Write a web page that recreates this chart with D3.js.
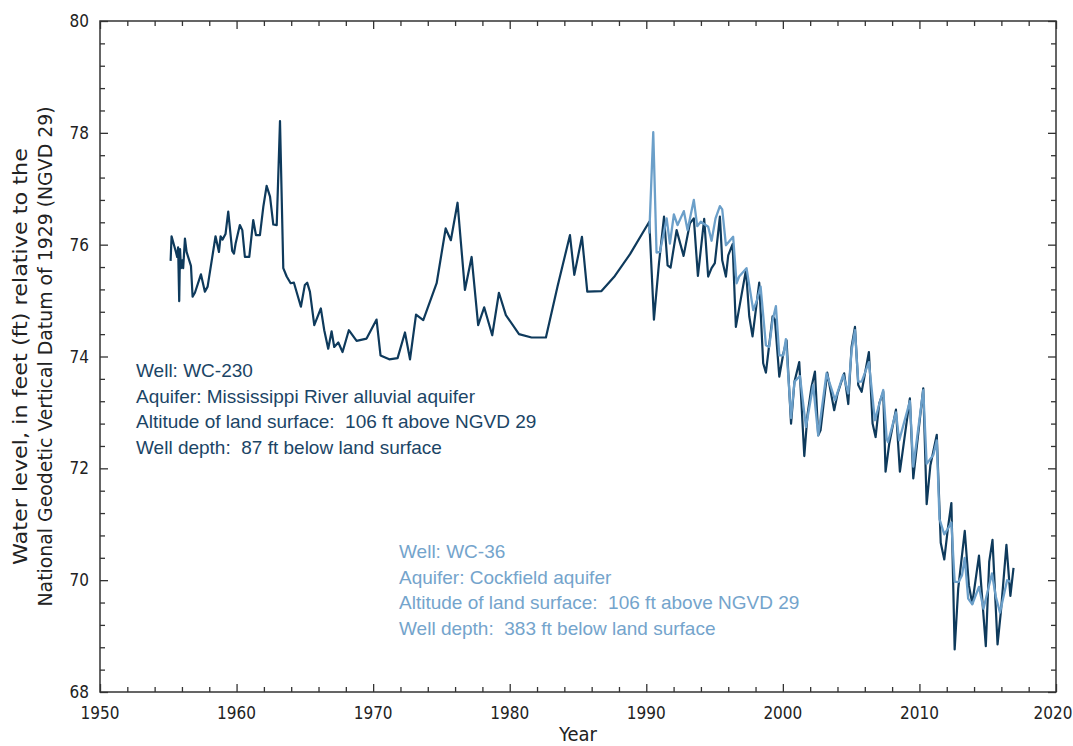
<!DOCTYPE html>
<html>
<head>
<meta charset="utf-8">
<script src="https://cdn.jsdelivr.net/npm/d3@7"></script>
<style>
  body { margin: 0; background: #fff; }
  .narrow { font-family: "Liberation Sans Narrow", "Arial Narrow", "DejaVu Sans Condensed", "DejaVu Sans", sans-serif; font-stretch: condensed; }
  .note { font-family: "Liberation Sans", Arial, sans-serif; font-size: 19px; }
</style>
</head>
<body>
<div id="chart"></div>
<script>
// Well WC-230 (Mississippi River alluvial aquifer)
var wc230Years = [1955.17,1955.24,1955.56,1955.65,1955.72,1955.8,1955.86,1955.93,1956.02,1956.09,1956.22,1956.34,1956.66,1956.78,1956.95,
  1957.39,1957.68,1957.88,1958.46,1958.71,1958.83,1958.97,1959.19,1959.39,1959.68,1959.81,1959.93,1960.24,1960.42,1960.61,1960.93,
  1961.22,1961.42,1961.71,1961.96,1962.2,1962.45,1962.69,1962.94,1963.18,1963.42,1963.67,1963.96,1964.2,1964.71,1965.0,1965.17,
  1965.37,1965.69,1966.17,1966.42,1966.71,1966.96,1967.15,1967.45,1967.76,1968.22,1968.79,1969.52,1970.25,1970.54,1971.18,1971.79,
  1972.33,1972.7,1973.14,1973.67,1974.65,1975.31,1975.69,1976.18,1976.72,1977.21,1977.69,1978.13,1978.72,1979.21,1979.72,1980.68,
  1981.6,1982.65,1983.5,1984.41,1984.73,1985.29,1985.68,1986.72,1987.7,1988.81,1990.22,1990.56,1990.93,1991.3,1991.56,1991.78,
  1992.22,1992.73,1993.19,1993.48,1993.78,1994.24,1994.53,1994.78,1995.02,1995.39,1995.56,1995.83,1996.0,1996.32,1996.56,1996.93,
  1997.3,1997.54,1997.78,1998.27,1998.56,1998.76,1999.25,1999.42,1999.74,2000.03,2000.27,2000.6,2000.85,2001.2,2001.57,2001.8,
  2002.1,2002.35,2002.59,2002.76,2003.25,2003.76,2004.01,2004.49,2004.79,2005.03,2005.28,2005.52,2005.77,2006.3,2006.57,2006.79,
  2007.06,2007.35,2007.52,2007.79,2008.28,2008.57,2009.3,2009.55,2010.28,2010.53,2010.8,2011.27,2011.56,2011.82,2012.09,2012.34,
  2012.58,2012.84,2013.32,2013.62,2013.87,2014.36,2014.86,2015.11,2015.35,2015.72,2015.97,2016.37,2016.66,2016.89];
var wc230Levels = [75.71,76.15,75.87,75.78,75.95,74.99,75.92,75.58,75.72,75.58,76.11,75.87,75.62,75.07,75.14,
  75.47,75.16,75.25,76.15,75.87,76.15,76.09,76.19,76.59,75.89,75.84,76.02,76.35,76.26,75.78,75.78,
  76.44,76.17,76.17,76.68,77.05,76.86,76.36,76.35,78.21,75.58,75.43,75.31,75.32,74.89,75.28,75.32,
  75.16,74.56,74.86,74.47,74.14,74.45,74.17,74.25,74.08,74.47,74.28,74.32,74.66,74.02,73.95,73.97,
  74.43,73.95,74.75,74.65,75.31,76.29,76.08,76.75,75.19,75.78,74.56,74.88,74.38,75.14,74.74,74.4,
  74.34,74.34,75.25,76.17,75.46,76.14,75.16,75.17,75.44,75.83,76.41,74.66,75.67,76.5,75.63,75.59,
  76.26,75.8,76.38,76.47,75.44,76.46,75.43,75.58,75.67,76.5,75.72,75.43,75.81,76.01,74.53,75.04,
  75.55,74.72,74.36,75.32,73.88,73.71,74.72,74.66,73.64,74.05,74.29,72.8,73.55,73.9,72.22,72.95,
  73.46,73.73,72.59,72.68,73.71,73.04,73.34,73.7,73.15,74.17,74.53,73.49,73.37,74.08,72.8,72.56,
  73.16,73.37,71.94,72.44,73.05,71.94,73.25,71.82,73.43,71.36,72.05,72.6,70.67,70.37,70.94,71.38,
  68.76,69.85,70.88,69.91,69.58,70.44,68.82,70.33,70.72,68.85,69.45,70.63,69.72,70.22];

// Well WC-36 (Cockfield aquifer)
var wc36Years = [1990.22,1990.51,1990.75,1991.0,1991.49,1991.73,1992.02,1992.29,1992.75,1993.02,1993.48,1993.73,1993.99,1994.53,
  1994.78,1995.07,1995.39,1995.56,1995.83,1996.08,1996.36,1996.61,1996.8,1997.34,1997.83,1998.07,1998.37,1998.76,1999.0,1999.25,
  1999.49,1999.74,2000.03,2000.22,2000.6,2000.85,2001.25,2001.69,2002.22,2002.59,2003.2,2003.82,2004.42,2004.79,2005.03,2005.28,
  2005.52,2005.77,2006.3,2006.74,2007.06,2007.35,2007.6,2007.7,2008.28,2008.52,2009.3,2009.55,2010.28,2010.53,2011.02,2011.27,
  2011.47,2011.82,2012.13,2012.34,2012.58,2012.88,2013.12,2013.32,2013.57,2013.87,2014.36,2014.69,2015.31,2015.6,2015.9,2016.42,2016.66];
var wc36Levels = [76.2,78.01,75.86,75.87,76.47,76.02,76.54,76.35,76.6,76.26,76.8,76.33,76.41,76.32,
  76.07,76.47,76.69,76.63,75.99,76.06,76.14,75.31,75.43,75.58,74.83,74.98,75.25,74.2,74.17,74.65,
  74.9,74.02,74.02,74.31,72.9,73.55,73.65,72.74,73.49,72.59,73.7,73.22,73.67,73.34,74.1,74.47,
  73.55,73.55,73.9,72.86,73.15,73.4,72.53,72.47,73.0,72.5,73.2,72.03,73.4,72.08,72.24,72.5,
  71.09,70.82,70.94,71.03,69.97,69.97,70.09,70.4,69.67,69.57,69.88,69.49,70.12,69.7,69.42,70.0,69.97];

var yearTicks = [1950, 1960, 1970, 1980, 1990, 2000, 2010, 2020];
var levelTicks = [68, 70, 72, 74, 76, 78, 80];

var wc230Notes = ["Well: WC-230", "Aquifer: Mississippi River alluvial aquifer",
  "Altitude of land surface:  106 ft above NGVD 29", "Well depth:  87 ft below land surface"];
var wc36Notes = ["Well: WC-36", "Aquifer: Cockfield aquifer",
  "Altitude of land surface:  106 ft above NGVD 29", "Well depth:  383 ft below land surface"];

var darkBlue = "#0e3a5c", lightBlue = "#6b9fc9";

var W = 1073, H = 746;
var margin = {top: 21, right: 17, bottom: 54, left: 100},
    width = W - margin.left - margin.right,
    height = H - margin.top - margin.bottom;

var svg = d3.select("#chart").append("svg")
    .attr("width", W).attr("height", H)
  .append("g")
    .attr("transform", "translate(" + margin.left + "," + margin.top + ")");

var x = d3.scaleLinear().domain([1950, 2020]).range([0, width]);
var y = d3.scaleLinear().domain([68, 80]).range([height, 0]);

var minorYears = d3.range(1950, 2021, 2).filter(function(d) { return d % 10 != 0; });
var minorLevels = d3.range(0, 31).map(function(i) { return +(68 + i * 0.4).toFixed(1); })
  .filter(function(d) { return Math.abs(d / 2 - Math.round(d / 2)) > 0.01; });

function tickAxis(axis, vals, size, tr) {
  var g = svg.append("g").attr("transform", tr || null)
    .call(axis.tickValues(vals).tickSize(size).tickSizeOuter(0).tickFormat(""));
  g.select(".domain").remove();
  g.selectAll("line").attr("stroke", "#333").attr("stroke-width", 1.3);
  return g;
}
// inward ticks, all four sides
tickAxis(d3.axisBottom(x), yearTicks, -8, "translate(0," + height + ")");
tickAxis(d3.axisBottom(x), minorYears, -5, "translate(0," + height + ")");
tickAxis(d3.axisTop(x), yearTicks, -8);
tickAxis(d3.axisTop(x), minorYears, -5);
tickAxis(d3.axisLeft(y), levelTicks, -8);
tickAxis(d3.axisLeft(y), minorLevels, -5);
tickAxis(d3.axisRight(y), levelTicks, -8, "translate(" + width + ",0)");
tickAxis(d3.axisRight(y), minorLevels, -5, "translate(" + width + ",0)");

// tick labels
svg.append("g").selectAll("text").data(yearTicks).enter().append("text")
  .attr("class", "narrow")
  .attr("x", function(d) { return Math.min(x(d), width - 3); })
  .attr("y", height + 27)
  .attr("text-anchor", "middle")
  .style("font-size", "17px").attr("fill", "#222")
  .text(function(d) { return d; });

svg.append("g").selectAll("text").data(levelTicks).enter().append("text")
  .attr("class", "narrow")
  .attr("x", -11)
  .attr("y", function(d) { return y(d) + 6; })
  .attr("text-anchor", "end")
  .style("font-size", "17px").attr("fill", "#222")
  .text(function(d) { return d; });

// frame
svg.append("rect")
  .attr("width", width).attr("height", height)
  .attr("fill", "none").attr("stroke", "#333").attr("stroke-width", 1.5);

// axis titles
svg.append("text")
  .attr("class", "narrow")
  .attr("x", width / 2).attr("y", height + 49)
  .attr("text-anchor", "middle")
  .style("font-size", "20px").attr("fill", "#222")
  .text("Year");

var yt = svg.append("text")
  .attr("class", "narrow")
  .attr("transform", "rotate(-90)")
  .attr("text-anchor", "middle")
  .style("font-size", "20px").attr("fill", "#222");
yt.append("tspan").attr("x", -height / 2).attr("y", -73)
  .attr("textLength", 417).attr("lengthAdjust", "spacingAndGlyphs")
  .text("Water level, in feet (ft) relative to the");
yt.append("tspan").attr("x", -height / 2).attr("y", -48)
  .attr("textLength", 500).attr("lengthAdjust", "spacingAndGlyphs")
  .text("National Geodetic Vertical Datum of 1929 (NGVD 29)");

// lines
var line = d3.line()
  .x(function(d) { return x(d[0]); })
  .y(function(d) { return y(d[1]); });

svg.append("path")
  .datum(d3.zip(wc230Years, wc230Levels))
  .attr("fill", "none").attr("stroke", darkBlue)
  .attr("stroke-width", 2.2).attr("stroke-linejoin", "round")
  .attr("d", line);

svg.append("path")
  .datum(d3.zip(wc36Years, wc36Levels))
  .attr("fill", "none").attr("stroke", lightBlue)
  .attr("stroke-width", 2.3).attr("stroke-linejoin", "round")
  .attr("d", line);

// well notes
svg.append("g").selectAll("text").data(wc230Notes).enter().append("text")
  .attr("class", "note")
  .attr("x", 36)
  .attr("y", function(d, i) { return 356 + i * 25.7; })
  .attr("fill", "#1b4566")
  .style("white-space", "pre")
  .text(function(d) { return d; });

svg.append("g").selectAll("text").data(wc36Notes).enter().append("text")
  .attr("class", "note")
  .attr("x", 299)
  .attr("y", function(d, i) { return 537 + i * 25.7; })
  .attr("fill", "#74a4cc")
  .style("white-space", "pre")
  .text(function(d) { return d; });
</script>
</body>
</html>
